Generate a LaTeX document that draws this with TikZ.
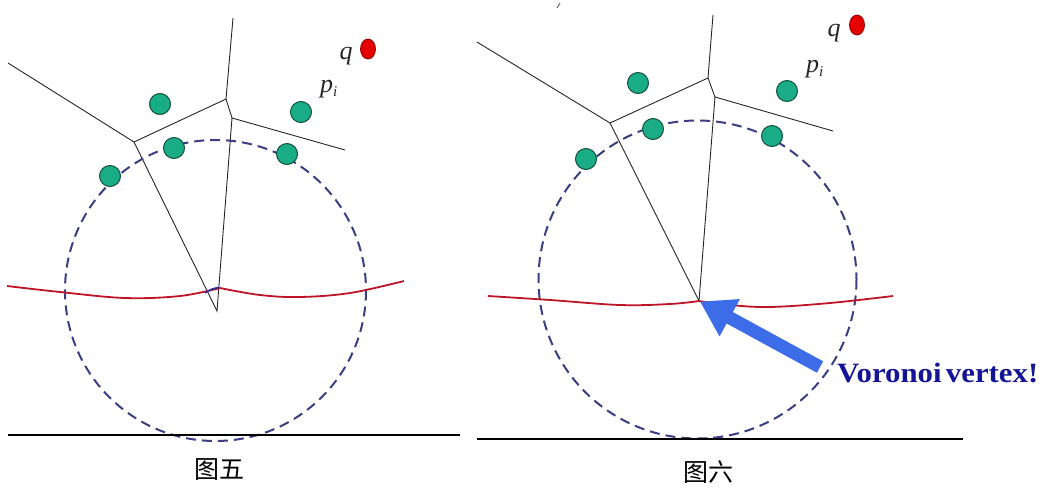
\documentclass[tikz,border=0pt]{standalone}
\usepackage{fontspec}
\setmainfont{Liberation Serif}
\newfontfamily\cjk{Noto Sans CJK SC}
\usetikzlibrary{arrows.meta,shapes.geometric}
\definecolor{ptgreen}{RGB}{26,172,134}
\definecolor{ptedge}{RGB}{20,80,60}
\definecolor{qred}{RGB}{228,0,0}
\definecolor{qedge}{RGB}{140,0,0}
\definecolor{circblue}{RGB}{58,62,130}
\definecolor{curvered}{RGB}{190,20,40}
\definecolor{arrowblue}{RGB}{60,108,232}
\definecolor{textnavy}{RGB}{20,20,150}
\definecolor{arcblue}{RGB}{40,50,160}
\newcommand{\plab}{\textit{p}\raisebox{-4pt}{\fontsize{15}{15}\selectfont\textit{i}}}
\tikzset{
  pt/.style={circle, draw=ptedge, fill=ptgreen, line width=1pt, minimum size=21pt, inner sep=0pt},
  qpt/.style={ellipse, draw=qedge, fill=qred, line width=0.8pt, minimum width=15pt, minimum height=20pt, inner sep=0pt},
  vedge/.style={draw=black!85, line width=0.9pt},
  dcirc/.style={draw=circblue, line width=2pt, dash pattern=on 10pt off 6pt},
  rcurve/.style={draw=curvered, line width=1.8pt},
  baseline rule/.style={draw=black, line width=2.4pt},
  lbl/.style={inner sep=0pt, text=black!85, font=\itshape\fontsize{26}{26}\selectfont},
  captext/.style={inner sep=0pt, font=\cjk\fontsize{25}{25}\selectfont},
}
\begin{document}
\begin{tikzpicture}[x=1pt,y=-1pt]
\useasboundingbox (0,0) rectangle (1045,488);
% ===== left panel =====
\coordinate (LA) at (134,142);
\coordinate (LB) at (226,99);
\coordinate (LC) at (232,118);
\coordinate (LV) at (217,311);
\coordinate (Le1) at (8,63);
\coordinate (Le2) at (233,18);
\coordinate (Le3) at (345,150);
\draw[vedge] (Le1) -- (LA) -- (LB) -- (Le2);
\draw[vedge] (LB) -- (LC) -- (Le3);
\draw[vedge] (LA) -- (LV) -- (LC);
\coordinate (Lcc) at (215.5,290.5);
\draw[dcirc] (Lcc) circle[radius=150.5];
\draw[rcurve] plot[smooth, tension=0.6] coordinates {(7,286) (60,292) (125,298) (180,296) (220,288)};
\draw[rcurve] plot[smooth, tension=0.6] coordinates {(220,288) (260,295) (300,297) (350,293) (404,281)};
\draw[arcblue, line width=1.6pt] (205,293) .. controls (210,289.5) and (214,288) .. (219,287.5);
\coordinate (Lb1) at (8,435);
\coordinate (Lb2) at (460,435);
\draw[baseline rule] (Lb1) -- (Lb2);
\node[pt] (lp1) at (160,104) {};
\node[pt] (lp2) at (174,148) {};
\node[pt] (lp3) at (110,176) {};
\node[pt] (lp4) at (301,112) {};
\node[pt] (lp5) at (287,154) {};
\node[qpt] (lq) at (368,49) {};
\node[lbl, anchor=base] (lqlab) at (346,59) {q};
\node[lbl, anchor=base west] (lplab) at (320,92) {\plab};
\node[captext] (lcap) at (219,470) {图五};
% ===== right panel =====
\coordinate (RA) at (610,123);
\coordinate (RB) at (708,78);
\coordinate (RC) at (715,97);
\coordinate (RV) at (699,301);
\coordinate (Re1) at (477,42);
\coordinate (Re2) at (713,15);
\coordinate (Re3) at (833,131);
\draw[vedge] (Re1) -- (RA) -- (RB) -- (Re2);
\draw[vedge] (RB) -- (RC) -- (Re3);
\draw[vedge] (RA) -- (RV) -- (RC);
\coordinate (tk1) at (557,8);
\coordinate (tk2) at (560,3);
\draw[black!70, line width=0.8pt] (tk1) -- (tk2);
\coordinate (Rcc) at (697.5,279.5);
\draw[dcirc] (Rcc) circle[radius=159];
\draw[rcurve] plot[smooth, tension=0.6] coordinates {(488,296) (550,300) (620,305) (670,304) (699,301)};
\draw[rcurve] plot[smooth, tension=0.6] coordinates {(699,301) (730,305) (770,307) (830,303) (893,296)};
\coordinate (Rb1) at (477,439);
\coordinate (Rb2) at (963,439);
\draw[baseline rule] (Rb1) -- (Rb2);
\node[pt] (rp1) at (638,83) {};
\node[pt] (rp2) at (653,129) {};
\node[pt] (rp3) at (586,159) {};
\node[pt] (rp4) at (787,91) {};
\node[pt] (rp5) at (772,136) {};
\node[qpt] (rq) at (857,25) {};
\node[lbl, anchor=base] (rqlab) at (834,36) {q};
\node[lbl, anchor=base west] (rplab) at (806,72) {\plab};
\node[captext] (rcap) at (708,472) {图六};
\coordinate (tail) at (820,367);
\draw[arrowblue, line width=13pt, -{Triangle[length=34pt,width=40pt]}, shorten >=1pt] (tail) -- (RV);
\node[anchor=base west, inner sep=0pt, text=textnavy, font=\bfseries\fontsize{28}{28}\selectfont] (vlab) at (837,382) {\scalebox{1.1}[1]{Voronoi\hspace{4pt}vertex!}};
\end{tikzpicture}
\end{document}
